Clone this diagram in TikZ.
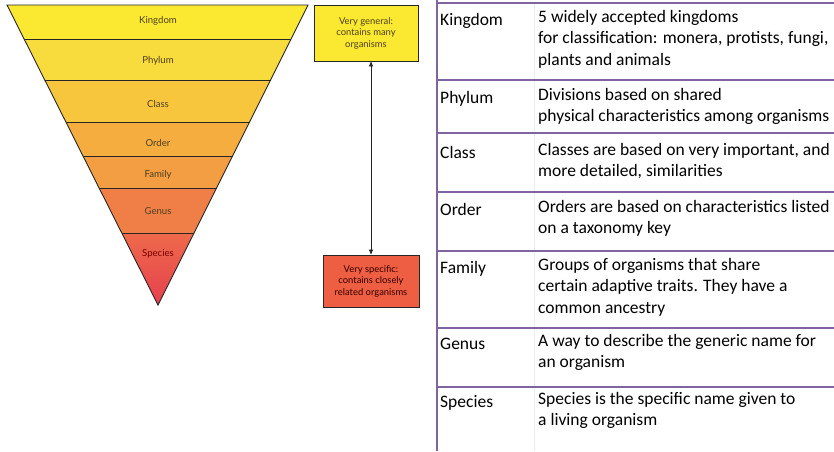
\documentclass[tikz,border=0pt]{standalone}
\usepackage{fontspec}
\setmainfont{Carlito}
\newfontfamily\pyrfont{Lato}
\usetikzlibrary{arrows.meta,positioning,calc}
\definecolor{lvking}{HTML}{FBE831}
\definecolor{lvphyl}{HTML}{F8DB3C}
\definecolor{lvclass}{HTML}{F7C63D}
\definecolor{lvorder}{HTML}{F4AD3E}
\definecolor{lvfam}{HTML}{F39E42}
\definecolor{lvgen}{HTML}{EF7F46}
\definecolor{lvspecA}{HTML}{EE6A4A}
\definecolor{lvspecB}{HTML}{E6404F}
\definecolor{boxred}{HTML}{EE5E42}
\definecolor{labtext}{HTML}{4E3F1E}
\definecolor{tabpurple}{HTML}{8064A2}

\begin{document}
\begin{tikzpicture}[x=1pt,y=-1pt,
			band/.style={draw=black!85,line width=0.9pt},
			lvl/.style={font=\pyrfont\fontsize{9.6}{11}\selectfont,text=labtext,inner sep=0pt},
			endbox/.style={draw=black!85,line width=0.9pt,align=center,inner sep=0pt,font=\pyrfont\fontsize{9.4}{11.5}\selectfont,text=labtext},
			tabline/.style={tabpurple,line width=1.6pt},
			rank/.style={anchor=base west,inner sep=0pt,font=\fontsize{17.5}{21.7}\selectfont},
			desc/.style={anchor=north west,inner sep=0pt,align=left,yshift=15.19pt,execute at begin node=\strut,font=\fontsize{17.5}{21.7}\selectfont}
			]
			\useasboundingbox (0,0) rectangle (834,451);
			% pyramid
			\coordinate (tl) at (7,5);
			\coordinate (tr) at (308,5);
			\coordinate (ap) at (158,305);
			\foreach \ya/\yb/\col in {5/39/lvking,39/80/lvphyl,80/122/lvclass,122/156/lvorder,156/188/lvfam,188/233/lvgen}
			\fill[\col] ($(tl)!{(\ya-5)/300}!(ap)$) -- ($(tr)!{(\ya-5)/300}!(ap)$) -- ($(tr)!{(\yb-5)/300}!(ap)$) -- ($(tl)!{(\yb-5)/300}!(ap)$) -- cycle;
			\shade[top color=lvspecA,bottom color=lvspecB] ($(tl)!{228/300}!(ap)$) -- ($(tr)!{228/300}!(ap)$) -- (ap) -- cycle;
			\foreach \yb in {39,80,122,156,188,233}
			\draw[band] ($(tl)!{(\yb-5)/300}!(ap)$) -- ($(tr)!{(\yb-5)/300}!(ap)$);
			\draw[band,line join=miter] (tl) -- (tr) -- (ap) -- cycle;
			\node[lvl] (kingdom) at (158,21) {Kingdom};
			\node[lvl] (phylum) at (158,61) {Phylum};
			\node[lvl] (class) at (158,104) {Class};
			\node[lvl] (order) at (158,143) {Order};
			\node[lvl] (family) at (158,175) {Family};
			\node[lvl] (genus) at (158,211) {Genus};
			\node[lvl,text=red!45!black] (species) at (158,254) {Species};
			% general / specific
			\node[endbox,fill=lvking,minimum width=104pt,minimum height=56pt] (general) at (366,33) {Very general:\\contains many\\organisms};
			\node[endbox,fill=boxred,text=black!80!red,minimum width=96pt,minimum height=52pt] (specific) at (371,281) {Very specific:\\contains closely\\related organisms};
			\draw[{Triangle[length=5pt,width=4pt]}-{Triangle[length=5pt,width=4pt]},black!85,line width=0.7pt] (general.south -| specific.north) -- (specific.north);
			% table
			\draw[black!8,line width=0.8pt] (534,3) -- (534,451);
			\draw[tabline] (437,0) -- (437,451);
			\foreach \yl in {3,80,133,192,251,328,387}
			\draw[tabline] (437,\yl) -- (834,\yl);
			\node[rank] (tking) at (440,25) {Kingdom};
			\node[rank] (tphyl) at (440,103) {Phylum};
			\node[rank] (tclass) at (440,158) {Class};
			\node[rank] (torder) at (440,215) {Order};
			\node[rank] (tfam) at (440,273) {Family};
			\node[rank] (tgen) at (440,349) {Genus};
			\node[rank] (tspec) at (440,407) {Species};
			\node[desc] (dking) at (538,25) {5 widely accepted kingdoms\\for classification: monera, protists, fungi,\\plants and animals};
			\node[desc] (dphyl) at (538,103) {Divisions based on shared\\physical characteristics among organisms};
			\node[desc] (dclass) at (538,158) {Classes are based on very important, and\\more detailed, similarities};
			\node[desc] (dorder) at (538,215) {Orders are based on characteristics listed\\on a taxonomy key};
			\node[desc] (dfam) at (538,273) {Groups of organisms that share\\certain adaptive traits. They have a\\common ancestry};
			\node[desc] (dgen) at (538,349) {A way to describe the generic name for\\an organism};
			\node[desc] (dspec) at (538,407) {Species is the specific name given to\\a living organism};
		\end{tikzpicture}
\end{document}
